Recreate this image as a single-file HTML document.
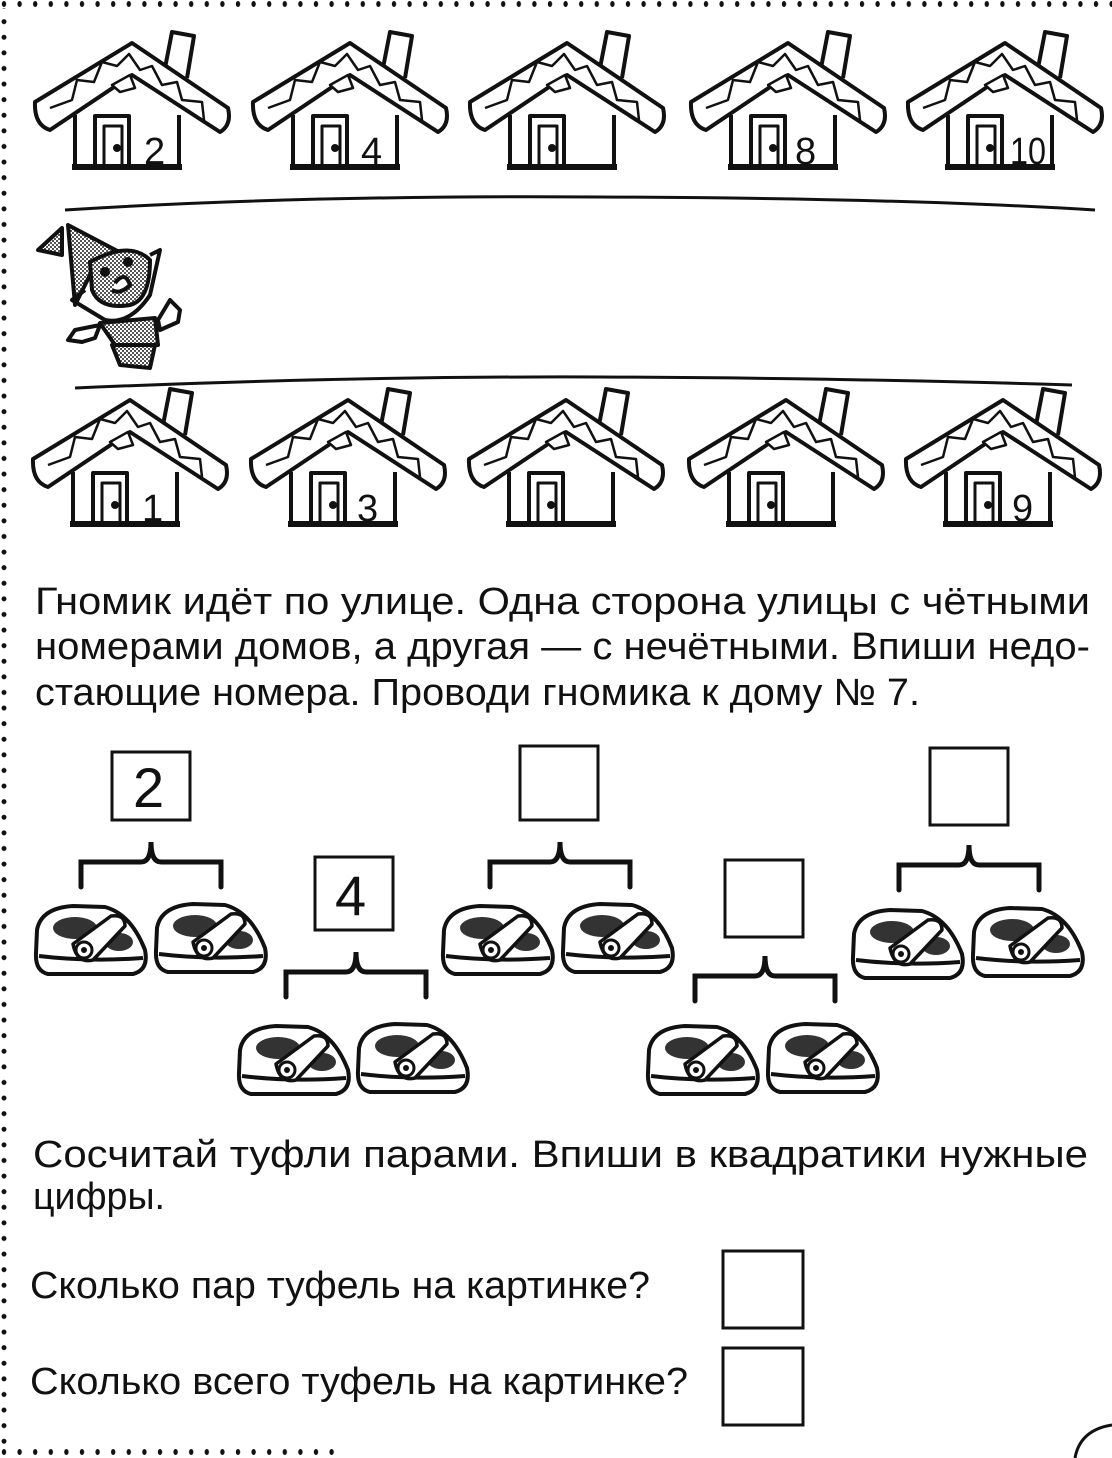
<!DOCTYPE html>
<html><head><meta charset="utf-8"><style>
html,body{margin:0;padding:0;background:#fff;}
svg{display:block;}
text{font-family:"Liberation Sans","DejaVu Sans",sans-serif;fill:#111;}
</style></head><body>
<svg width="1112" height="1458" viewBox="0 0 1112 1458" xmlns="http://www.w3.org/2000/svg">
<defs>
<g id="house" fill="none" stroke="#111" stroke-width="4" stroke-linejoin="round">
 <path d="M133,38 L140,2 L162,6 L155,48" fill="#fff"/>
 <path d="M3,72 L100,13 L196,78 Q200,95 188,102 L100,45 L18,100 Q2,95 3,72 Z" fill="#fff"/>
 <path d="M18,78 L40,70 L45,50 L62,52 L70,32 L85,36 L97,24 L108,40 L120,36 L130,55 L145,52 L150,70 L170,72 L172,90" stroke-width="2.5"/>
 <path d="M80,55 L98,45 L103,58 L88,62 Z" fill="#fff" stroke-width="2.5"/>
 <path d="M43,85 L43,137 L147,137 L147,85"/>
 <path d="M40,137 L150,137" stroke-width="6"/>
 <rect x="63" y="86" width="34" height="51"/>
 <rect x="72" y="96" width="18" height="41" stroke-width="3"/>
 <circle cx="85" cy="118" r="2" fill="#111"/>
</g>
<g id="shoe" stroke="#111" stroke-width="4" stroke-linejoin="round">
 <path d="M4,32 Q8,10 40,8 L72,9 Q98,16 112,52 Q116,72 100,76 L15,76 Q2,73 3,55 Z" fill="#fff"/>
 <path d="M6,58 Q55,64 110,60" fill="none"/>
 <ellipse cx="42" cy="30" rx="22" ry="11" fill="#333" stroke="none"/>
 <ellipse cx="86" cy="44" rx="14" ry="9" fill="#333" stroke="none"/>
 <path d="M40,46 L78,18 Q92,16 92,28 L60,62 Q44,66 40,46 Z" fill="#fff" stroke-width="3.5"/>
 <circle cx="51" cy="52" r="8" fill="#fff" stroke-width="3"/>
 <circle cx="51" cy="52" r="3" fill="#111" stroke="none"/>
</g>
<g id="brace" fill="none" stroke="#111" stroke-width="5" stroke-linecap="round">
 <path d="M0,45 L0,20 L60,20 Q70,20 70,0 Q70,20 80,20 L140,20 L140,45"/>
</g>
<pattern id="dots" width="15.6" height="8" patternUnits="userSpaceOnUse"><ellipse cx="4" cy="4" rx="2.2" ry="3" fill="#111"/></pattern>
<pattern id="vdots" width="8" height="15.6" patternUnits="userSpaceOnUse"><ellipse cx="4" cy="6" rx="2.5" ry="2.5" fill="#111"/></pattern>
<pattern id="hatch" width="4" height="4" patternUnits="userSpaceOnUse"><rect width="4" height="4" fill="#fff"/><rect width="2" height="2" fill="#555"/><rect x="2" y="2" width="2" height="2" fill="#555"/></pattern>
</defs>

<rect x="0" y="0" width="1112" height="8" fill="url(#dots)"/>
<rect x="0" y="8" width="8" height="1440" fill="url(#vdots)"/>
<rect x="0" y="1448" width="340" height="8" fill="url(#dots)"/>
<path d="M1075,1458 Q1080,1430 1112,1425" fill="none" stroke="#111" stroke-width="3"/>

<use href="#house" x="32" y="30"/>
<use href="#house" x="250" y="30"/>
<use href="#house" x="467" y="30"/>
<use href="#house" x="688" y="30"/>
<use href="#house" x="905" y="30"/>
<g font-size="38">
<text x="144" y="164">2</text>
<text x="361" y="164">4</text>
<text x="795" y="164">8</text>
<text x="1010" y="164" textLength="36" lengthAdjust="spacingAndGlyphs">10</text>
</g>
<path d="M65,210 Q300,195 600,197 Q900,198 1095,210" fill="none" stroke="#111" stroke-width="3"/>
<path d="M75,388 Q350,376 600,377 Q850,378 1072,385" fill="none" stroke="#111" stroke-width="3"/>

<g stroke="#111" stroke-width="4" stroke-linejoin="round">
 <polygon points="38,250 62,228 62,255" fill="url(#hatch)"/>
 <polygon points="68,225 125,255 95,265 75,305" fill="url(#hatch)"/>
 <path d="M90,262 Q130,240 150,260 Q150,300 130,305 Q100,310 92,290 Z" fill="url(#hatch)"/>
 <path d="M150,255 L160,250 L150,295 Q130,325 105,320 L72,300 L85,290" fill="none"/>
 <circle cx="128" cy="262" r="3" fill="#111"/><circle cx="105" cy="272" r="3" fill="#111"/>
 <path d="M115,283 Q125,270 130,285 Q120,295 112,290" fill="#fff"/>
 <path d="M100,323 L155,318 L158,345 L115,345 Z" fill="url(#hatch)"/>
 <path d="M112,345 L155,345 L150,368 L120,365 Z" fill="url(#hatch)"/>
 <path d="M100,325 L75,330 L68,340 L82,342 L95,338 Z" fill="#fff"/>
 <path d="M158,320 L170,300 L180,310 L178,322 L160,330 Z" fill="#fff"/>
</g>

<use href="#house" x="30" y="387"/>
<use href="#house" x="248" y="387"/>
<use href="#house" x="466" y="387"/>
<use href="#house" x="686" y="387"/>
<use href="#house" x="903" y="387"/>
<g font-size="38">
<text x="142" y="521">1</text>
<text x="357" y="521">3</text>
<text x="1012" y="521">9</text>
</g>

<g font-size="38">
<text x="35" y="614" textLength="1055" lengthAdjust="spacingAndGlyphs">Гномик идёт по улице. Одна сторона улицы с чётными</text>
<text x="35" y="659" textLength="1055" lengthAdjust="spacingAndGlyphs">номерами домов, а другая — с нечётными. Впиши недо-</text>
<text x="35" y="705" textLength="885" lengthAdjust="spacingAndGlyphs">стающие номера. Проводи гномика к дому № 7.</text>
</g>

<g fill="none" stroke="#111" stroke-width="3">
<rect x="112" y="752" width="78" height="68"/>
<rect x="520" y="746" width="78" height="74"/>
<rect x="930" y="748" width="78" height="77"/>
<rect x="315" y="857" width="78" height="73"/>
<rect x="725" y="860" width="78" height="77"/>
</g>
<g font-size="56">
<text x="133" y="807">2</text>
<text x="335" y="915">4</text>
</g>

<use href="#brace" x="81" y="842"/>
<use href="#brace" x="286" y="952"/>
<use href="#brace" x="490" y="842"/>
<use href="#brace" x="695" y="956"/>
<use href="#brace" x="899" y="845"/>

<use href="#shoe" x="33" y="898"/>
<use href="#shoe" x="153" y="896"/>
<use href="#shoe" x="236" y="1018"/>
<use href="#shoe" x="355" y="1016"/>
<use href="#shoe" x="440" y="898"/>
<use href="#shoe" x="560" y="896"/>
<use href="#shoe" x="645" y="1018"/>
<use href="#shoe" x="765" y="1016"/>
<use href="#shoe" x="850" y="902"/>
<use href="#shoe" x="970" y="900"/>

<g font-size="38">
<text x="33" y="1167" textLength="1055" lengthAdjust="spacingAndGlyphs">Сосчитай туфли парами. Впиши в квадратики нужные</text>
<text x="33" y="1209" textLength="132" lengthAdjust="spacingAndGlyphs">цифры.</text>
<text x="30" y="1298" textLength="620" lengthAdjust="spacingAndGlyphs">Сколько пар туфель на картинке?</text>
<text x="30" y="1394" textLength="658" lengthAdjust="spacingAndGlyphs">Сколько всего туфель на картинке?</text>
</g>
<g fill="none" stroke="#111" stroke-width="3">
<rect x="723" y="1251" width="80" height="77"/>
<rect x="723" y="1348" width="80" height="77"/>
</g>
</svg>
</body></html>
